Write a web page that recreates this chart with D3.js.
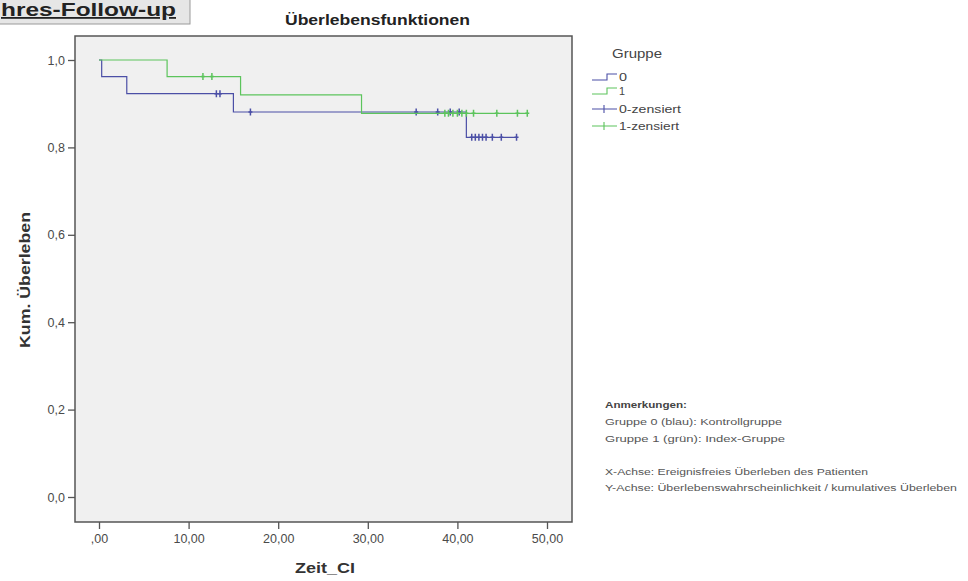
<!DOCTYPE html>
<html>
<head>
<meta charset="utf-8">
<script src="https://cdn.jsdelivr.net/npm/d3@7"></script>
<style>
	body { margin: 0; background: #fff; }
	svg text { font-family: "Liberation Sans", Arial, sans-serif; }
</style>
</head>
<body>
<svg id="viz" width="968" height="581"></svg>
<script>

// group 0 (Kontrollgruppe)
var group0Times = [ 0, 0.3, 3.1, 15.0, 41.0 ];
var group0Surv = [ 1.0, 0.962, 0.923, 0.881, 0.823 ];
var group0End = 46.6;
var group0Censored = [ 13.1, 13.5, 16.9, 35.4, 37.8, 39.2, 40.2, 41.6, 42.0, 42.4, 42.8, 43.2, 43.9, 44.9, 46.6 ];

// group 1 (Index-Gruppe)
var group1Times = [ 0, 7.6, 15.8, 29.3 ];
var group1Surv = [ 1.0, 0.962, 0.920, 0.878 ];
var group1End = 47.8;
var group1Censored = [ 11.6, 12.6, 38.6, 39.0, 39.5, 40.0, 40.5, 41.0, 41.8, 44.4, 46.7, 47.8 ];

var xTicks = [ 0, 10, 20, 30, 40, 50 ];
var yTicks = [ 0, 0.2, 0.4, 0.6, 0.8, 1.0 ];

var legendLabels = [ '0', '1', '0-zensiert', '1-zensiert' ];
var legendWidths = [ 8, 6, 62, 60 ];
var notes = [
	'Gruppe 0 (blau): Kontrollgruppe',
	'Gruppe 1 (grün): Index-Gruppe',
	'',
	'X-Achse: Ereignisfreies Überleben des Patienten',
	'Y-Achse: Überlebenswahrscheinlichkeit / kumulatives Überleben'
];
var noteWidths = [ 177, 180, 0, 263, 352 ];

var blue = '#4b4fa6';
var green = '#5cc45c';

var svg = d3.select( '#viz' );

// cut-off header box top left
svg.append( 'rect' )
	.attr( 'x', -2 ).attr( 'y', -2 )
	.attr( 'width', 192 ).attr( 'height', 26 )
	.style( 'fill', '#e6e6e6' )
	.style( 'stroke', '#9a9a9a' );
svg.append( 'text' )
	.attr( 'x', 1 ).attr( 'y', 16 )
	.attr( 'textLength', 175 )
	.attr( 'lengthAdjust', 'spacingAndGlyphs' )
	.style( 'font-size', '18px' )
	.style( 'font-weight', 'bold' )
	.style( 'fill', '#222' )
	.style( 'text-decoration', 'underline' )
	.text( 'hres-Follow-up' );

var plot = { left: 75, top: 36, right: 572, bottom: 522 };

var x = d3.scaleLinear().domain( [ 0, 50 ] ).range( [ 99, 547 ] );
var y = d3.scaleLinear().domain( [ 0, 1 ] ).range( [ 497, 60 ] );

svg.append( 'rect' )
	.attr( 'x', plot.left ).attr( 'y', plot.top )
	.attr( 'width', plot.right - plot.left )
	.attr( 'height', plot.bottom - plot.top )
	.style( 'fill', '#f0f0f0' )
	.style( 'stroke', '#555' )
	.style( 'stroke-width', 1.5 );

svg.append( 'text' )
	.attr( 'x', 285 ).attr( 'y', 25 )
	.attr( 'textLength', 185 )
	.attr( 'lengthAdjust', 'spacingAndGlyphs' )
	.style( 'font-size', '15px' )
	.style( 'font-weight', 'bold' )
	.style( 'fill', '#222' )
	.text( 'Überlebensfunktionen' );

var xAxis = d3.axisBottom( x )
	.tickValues( xTicks )
	.tickSize( 7 )
	.tickSizeOuter( 0 )
	.tickFormat( function ( d ) { return d === 0 ? ',00' : d + ',00'; } );

var yAxis = d3.axisLeft( y )
	.tickValues( yTicks )
	.tickSize( 7 )
	.tickSizeOuter( 0 )
	.tickFormat( function ( d ) { return d3.format( '.1f' )( d ).replace( '.', ',' ); } );

var gx = svg.append( 'g' )
	.attr( 'transform', 'translate(0,' + plot.bottom + ')' )
	.call( xAxis );
var gy = svg.append( 'g' )
	.attr( 'transform', 'translate(' + plot.left + ',0)' )
	.call( yAxis );

[ gx, gy ].forEach( function ( g ) {
	g.select( '.domain' ).remove();
	g.selectAll( 'line' ).style( 'stroke', '#555' ).style( 'stroke-width', 1.3 );
	g.selectAll( 'text' ).style( 'font-size', '12.5px' ).style( 'fill', '#4a4a4a' );
} );
gx.selectAll( 'text' ).attr( 'dy', '0.85em' );

svg.append( 'text' )
	.attr( 'x', 295 ).attr( 'y', 573 )
	.attr( 'textLength', 60 )
	.attr( 'lengthAdjust', 'spacingAndGlyphs' )
	.style( 'font-size', '14px' )
	.style( 'font-weight', 'bold' )
	.style( 'fill', '#333' )
	.text( 'Zeit_CI' );

svg.append( 'text' )
	.attr( 'transform', 'translate(30,348) rotate(-90)' )
	.attr( 'textLength', 136 )
	.attr( 'lengthAdjust', 'spacingAndGlyphs' )
	.style( 'font-size', '14px' )
	.style( 'font-weight', 'bold' )
	.style( 'fill', '#333' )
	.text( 'Kum. Überleben' );

// survival step functions
var survAt = function ( times, surv, t ) {
	var s = surv[0];
	times.forEach( function ( tt, i ) { if ( t >= tt ) { s = surv[i]; } } );
	return s;
};

var groups = [
	{ times: group0Times, surv: group0Surv, end: group0End, cens: group0Censored, color: blue },
	{ times: group1Times, surv: group1Surv, end: group1End, cens: group1Censored, color: green }
];

var lines = svg.append( 'g' );

groups.forEach( function ( g ) {
	var pts = [];
	g.times.forEach( function ( t, i ) { pts.push( [ t, g.surv[i] ] ); } );
	pts.push( [ g.end, g.surv[g.surv.length - 1] ] );

	var line = d3.line()
		.curve( d3.curveStepAfter )
		.x( function ( d ) { return x( d[0] ); } )
		.y( function ( d ) { return y( d[1] ); } );

	lines.append( 'path' )
		.datum( pts )
		.attr( 'd', line )
		.style( 'fill', 'none' )
		.style( 'stroke', g.color )
		.style( 'stroke-width', 1.2 );

	lines.selectAll( null )
		.data( g.cens )
		.enter()
		.append( 'path' )
		.attr( 'transform', function ( d ) {
			return 'translate(' + x( d ) + ',' + y( survAt( g.times, g.surv, d ) ) + ')';
		} )
		.attr( 'd', 'M0,-3.5V3.5M-2,0H2' )
		.style( 'stroke', g.color )
		.style( 'stroke-width', 1.5 );
} );

// legend
var legend = svg.append( 'g' );
legend.append( 'text' )
	.attr( 'x', 612 ).attr( 'y', 58 )
	.attr( 'textLength', 50 )
	.attr( 'lengthAdjust', 'spacingAndGlyphs' )
	.style( 'font-size', '12px' )
	.style( 'fill', '#444' )
	.text( 'Gruppe' );

var legendY = [ 77, 91, 109, 126 ];
legendLabels.forEach( function ( label, i ) {
	var ly = legendY[i];
	var color = i % 2 === 0 ? blue : green;
	if ( i < 2 ) {
		legend.append( 'path' )
			.attr( 'd', 'M592,' + ( ly + 3 ) + 'H607V' + ( ly - 3 ) + 'H617' )
			.style( 'fill', 'none' )
			.style( 'stroke', color )
			.style( 'stroke-width', 1.1 );
	} else {
		legend.append( 'path' )
			.attr( 'd', 'M592,' + ly + 'H617M604,' + ( ly - 4 ) + 'V' + ( ly + 4 ) )
			.style( 'fill', 'none' )
			.style( 'stroke', color )
			.style( 'stroke-width', 1.1 );
	}
	legend.append( 'text' )
		.attr( 'x', 619 ).attr( 'y', ly + 4 )
		.attr( 'textLength', legendWidths[i] )
		.attr( 'lengthAdjust', 'spacingAndGlyphs' )
		.style( 'font-size', '11.5px' )
		.style( 'fill', '#444' )
		.text( label );
} );

// notes
var note = svg.append( 'g' );
note.append( 'text' )
	.attr( 'x', 605 ).attr( 'y', 408 )
	.attr( 'textLength', 82 )
	.attr( 'lengthAdjust', 'spacingAndGlyphs' )
	.style( 'font-size', '8.5px' )
	.style( 'font-weight', 'bold' )
	.style( 'fill', '#444' )
	.text( 'Anmerkungen:' );

notes.forEach( function ( t, i ) {
	if ( !t ) { return; }
	note.append( 'text' )
		.attr( 'x', 605 ).attr( 'y', 425 + i * 16.5 )
		.attr( 'textLength', noteWidths[i] )
		.attr( 'lengthAdjust', 'spacingAndGlyphs' )
		.style( 'font-size', '8.5px' )
		.style( 'fill', '#555' )
		.text( t );
} );

</script>
</body>
</html>
